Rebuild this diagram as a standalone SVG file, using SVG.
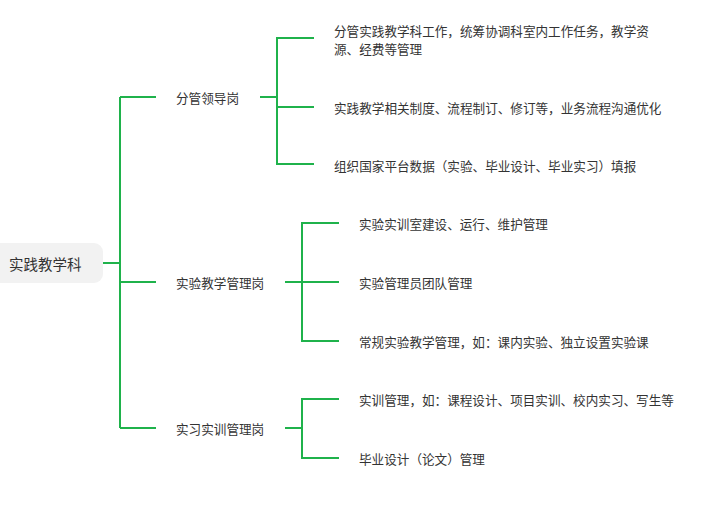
<svg xmlns="http://www.w3.org/2000/svg" width="719" height="519" viewBox="0 0 719 519">
<style>
.t{font-family:"Noto Sans CJK SC","Microsoft YaHei",sans-serif;fill:#333;dominant-baseline:central}
.l1{font-size:12.6px}
.lf{font-size:12.6px}
.root{font-size:14.5px}
.c{fill:none;stroke:#1fb24b;stroke-width:2}
</style>
<rect x="0" y="0" width="719" height="519" fill="#fff"/>
<g id="connectors">
<path class="c" d="M102 263H120M120 97V428M120 97H156M120 282H156M120 428H156"/>
<path class="c" d="M260 97H277M314 38H277V164H314M277 107H314"/>
<path class="c" d="M285 282H339M339 223H302V341H339"/>
<path class="c" d="M285 428H302M339 399H302V458H339"/>
</g>
<g id="root">
<rect x="-10" y="243" width="113" height="40" rx="9" fill="#f2f2f2"/>
<text class="t root" x="9" y="263">实践教学科</text>
</g>
<g id="n1"><text class="t l1" x="176" y="97">分管领导岗</text></g>
<g id="n2"><text class="t l1" x="176" y="282">实验教学管理岗</text></g>
<g id="n3"><text class="t l1" x="176" y="428">实习实训管理岗</text></g>
<g id="n1a"><text class="t lf" x="334" y="30.5">分管实践教学科工作，统筹协调科室内工作任务，教学资</text><text class="t lf" x="334" y="48.5">源、经费等管理</text></g>
<g id="n1b"><text class="t lf" x="334" y="107">实践教学相关制度、流程制订、修订等，业务流程沟通优化</text></g>
<g id="n1c"><text class="t lf" x="334" y="165">组织国家平台数据（实验、毕业设计、毕业实习）填报</text></g>
<g id="n2a"><text class="t lf" x="359" y="223">实验实训室建设、运行、维护管理</text></g>
<g id="n2b"><text class="t lf" x="359" y="282">实验管理员团队管理</text></g>
<g id="n2c"><text class="t lf" x="359" y="341">常规实验教学管理，如：课内实验、独立设置实验课</text></g>
<g id="n3a"><text class="t lf" x="359" y="399">实训管理，如：课程设计、项目实训、校内实习、写生等</text></g>
<g id="n3b"><text class="t lf" x="359" y="458">毕业设计（论文）管理</text></g>
</svg>
